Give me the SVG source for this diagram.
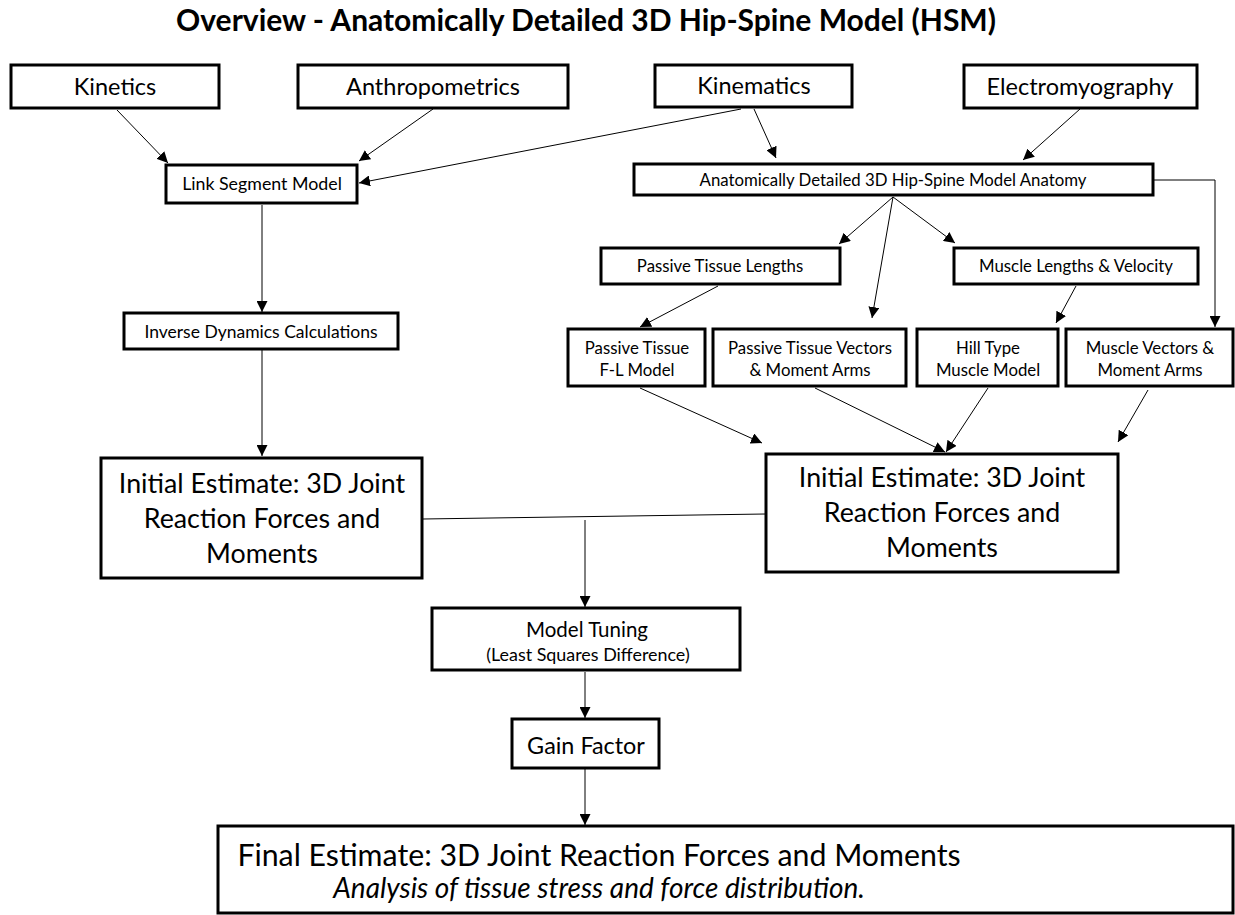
<svg xmlns="http://www.w3.org/2000/svg" width="1235" height="915" viewBox="0 0 1235 915">
<defs>
<marker id="ah" viewBox="0 0 10 10" refX="10" refY="5" markerWidth="11" markerHeight="11" markerUnits="userSpaceOnUse" orient="auto">
<path d="M0,0 L10,5 L0,10 z" fill="#000"/>
</marker>
</defs>
<style>
.box{fill:#fff;stroke:#000;stroke-width:3}
.t{font-family:Lato,"Open Sans","Liberation Sans",sans-serif;fill:#000;text-anchor:middle}
.c{stroke:#000;stroke-width:1;fill:none}
.a{stroke:#000;stroke-width:1;fill:none;marker-end:url(#ah)}
</style>
<rect width="1235" height="915" fill="#fff"/>
<text class="t" x="586" y="31" font-size="30" font-weight="bold">Overview - Anatomically Detailed 3D Hip-Spine Model (HSM)</text>

<g id="connectors">
<line class="a" x1="117" y1="110" x2="168" y2="163"/>
<line class="a" x1="433" y1="109" x2="359" y2="161"/>
<line class="a" x1="741" y1="109" x2="359" y2="183"/>
<line class="a" x1="754" y1="109" x2="776" y2="158"/>
<line class="a" x1="1080" y1="109" x2="1023" y2="160"/>
<polyline class="a" points="1154,180 1215,180 1215,327"/>
<line class="a" x1="893" y1="197" x2="839" y2="244"/>
<line class="a" x1="893" y1="197" x2="872" y2="318"/>
<line class="a" x1="893" y1="197" x2="955" y2="243"/>
<line class="a" x1="718" y1="286" x2="640" y2="327"/>
<line class="a" x1="1076" y1="286" x2="1056" y2="323"/>
<line class="a" x1="262" y1="205" x2="262" y2="312"/>
<line class="a" x1="262" y1="350" x2="262" y2="456"/>
<line class="a" x1="640" y1="388" x2="762" y2="443"/>
<line class="a" x1="815" y1="388" x2="945" y2="452"/>
<line class="a" x1="988" y1="388" x2="946" y2="452"/>
<line class="a" x1="1148" y1="390" x2="1118" y2="442"/>
<line class="c" x1="423" y1="519" x2="766" y2="514"/>
<line class="a" x1="585" y1="520" x2="585" y2="607"/>
<line class="a" x1="585" y1="672" x2="585" y2="718"/>
<line class="a" x1="585" y1="769" x2="585" y2="825"/>
</g>

<g id="kinetics"><rect class="box" x="11" y="65" width="208" height="43"/><text class="t" x="115" y="95" font-size="23.5">Kinetics</text></g>
<g id="anthropometrics"><rect class="box" x="298" y="65" width="270" height="43"/><text class="t" x="433" y="95" font-size="23.5">Anthropometrics</text></g>
<g id="kinematics"><rect class="box" x="655" y="65" width="197" height="42"/><text class="t" x="754" y="94" font-size="23.5">Kinematics</text></g>
<g id="electromyography"><rect class="box" x="964" y="65" width="233" height="43"/><text class="t" x="1080" y="95" font-size="23.5">Electromyography</text></g>
<g id="link-segment"><rect class="box" x="166" y="165" width="191" height="38"/><text class="t" x="262" y="190" font-size="17.8">Link Segment Model</text></g>
<g id="anatomy"><rect class="box" x="634" y="164" width="519" height="31"/><text class="t" x="893" y="186" font-size="16.8">Anatomically Detailed 3D Hip-Spine Model Anatomy</text></g>
<g id="passive-lengths"><rect class="box" x="601" y="248" width="239" height="36"/><text class="t" x="720" y="272" font-size="16.8">Passive Tissue Lengths</text></g>
<g id="muscle-lengths"><rect class="box" x="954" y="248" width="244" height="36"/><text class="t" x="1076" y="272" font-size="16.8">Muscle Lengths &amp; Velocity</text></g>
<g id="inverse-dynamics"><rect class="box" x="124" y="313" width="274" height="36"/><text class="t" x="261" y="338" font-size="17.5">Inverse Dynamics Calculations</text></g>
<g id="passive-fl"><rect class="box" x="568" y="329" width="137" height="57"/><text class="t" x="637" y="354" font-size="16.8">Passive Tissue</text><text class="t" x="637" y="376" font-size="16.8">F-L Model</text></g>
<g id="passive-vectors"><rect class="box" x="713" y="329" width="193" height="57"/><text class="t" x="810" y="354" font-size="16.8">Passive Tissue Vectors</text><text class="t" x="810" y="376" font-size="16.8">&amp; Moment Arms</text></g>
<g id="hill-type"><rect class="box" x="917" y="329" width="141" height="57"/><text class="t" x="988" y="354" font-size="16.8">Hill Type</text><text class="t" x="988" y="376" font-size="16.8">Muscle Model</text></g>
<g id="muscle-vectors"><rect class="box" x="1066" y="329" width="167" height="57"/><text class="t" x="1150" y="354" font-size="16.8">Muscle Vectors &amp;</text><text class="t" x="1150" y="376" font-size="16.8">Moment Arms</text></g>
<g id="initial-left"><rect class="box" x="101" y="458" width="321" height="120"/><text class="t" x="262" y="493" font-size="26.8">Initial Estimate: 3D Joint</text><text class="t" x="262" y="528" font-size="26.8">Reaction Forces and</text><text class="t" x="262" y="563" font-size="26.8">Moments</text></g>
<g id="initial-right"><rect class="box" x="766" y="454" width="352" height="118"/><text class="t" x="942" y="487" font-size="26.8">Initial Estimate: 3D Joint</text><text class="t" x="942" y="522" font-size="26.8">Reaction Forces and</text><text class="t" x="942" y="557" font-size="26.8">Moments</text></g>
<g id="model-tuning"><rect class="box" x="432" y="608" width="308" height="62"/><text class="t" x="587" y="637" font-size="20.5">Model Tuning</text><text class="t" x="588" y="661" font-size="17.9">(Least Squares Difference)</text></g>
<g id="gain-factor"><rect class="box" x="512" y="719" width="147" height="49"/><text class="t" x="586" y="754" font-size="23.4">Gain Factor</text></g>
<g id="final"><rect class="box" x="218" y="826" width="1015" height="87"/><text class="t" x="599" y="866" font-size="30.3">Final Estimate: 3D Joint Reaction Forces and Moments</text><text class="t" x="599" y="898" font-size="28" font-style="italic">Analysis of tissue stress and force distribution.</text></g>
</svg>
